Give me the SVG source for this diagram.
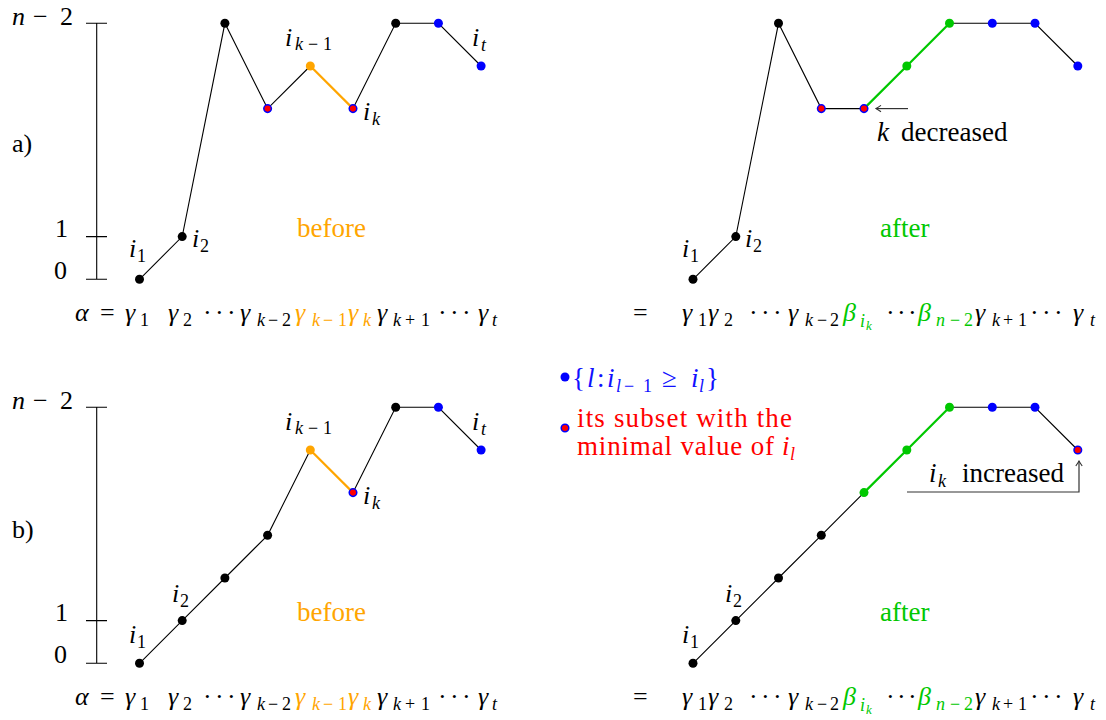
<svg xmlns="http://www.w3.org/2000/svg" width="1106" height="720" viewBox="0 0 1106 720">
<defs>
<style>
.k{fill:#000}
.b{fill:#0000FF}
.o{fill:#FFA500}
.g{fill:#00C800}
.br{fill:#FF0000;stroke:#0000FF;stroke-width:1.5}
.ln{fill:none;stroke:#000;stroke-width:1.1}
.lo{fill:none;stroke:#FFA500;stroke-width:2.2}
.lg{fill:none;stroke:#00C800;stroke-width:2.2}
.ax{fill:none;stroke:#000;stroke-width:1.1}
.ar{fill:none;stroke:#333;stroke-width:1.2}
</style>
<marker id="arr" viewBox="-6 -4 7 8" refX="0" refY="0" markerWidth="7" markerHeight="8" markerUnits="userSpaceOnUse" orient="auto">
<path d="M-5,-3.2 Q-1.5,-0.8 0,0 Q-1.5,0.8 -5,3.2" fill="none" stroke="#333" stroke-width="1.1"/>
</marker>
</defs>
<g id="axes">
<path class="ax" d="M96.7,23.3V279.3M86,23.3H107M86,236.6H107M86,279.3H107"/>
<path class="ax" d="M96.7,407.3V663.3M86,407.3H107M86,620.6H107M86,663.3H107"/>
<text font-family="serif" font-size="26" x="12" y="25"><tspan font-style="italic">n</tspan><tspan x="33">−</tspan><tspan x="60">2</tspan></text>
<text font-family="serif" font-size="26" x="55" y="237">1</text>
<text font-family="serif" font-size="26" x="54" y="279">0</text>
<text font-family="serif" font-size="26" x="12" y="152">a)</text>
<text font-family="serif" font-size="26" x="12" y="409"><tspan font-style="italic">n</tspan><tspan x="33">−</tspan><tspan x="60">2</tspan></text>
<text font-family="serif" font-size="26" x="55" y="621">1</text>
<text font-family="serif" font-size="26" x="54" y="663">0</text>
<text font-family="serif" font-size="26" x="12" y="538">b)</text>
</g>
<g id="connectors">
<polyline class="ln" points="139.5,279.3 182.2,236.6 224.9,23.3 267.6,108.6 310.3,66"/>
<polyline class="lo" points="310.3,66 353,108.6"/>
<polyline class="ln" points="353,108.6 395.7,23.3 438.4,23.3 481.1,66"/>
<polyline class="ln" points="693,279.3 735.8,236.6 778.5,23.3 821.3,108.6 864,108.6"/>
<polyline class="lg" points="864,108.6 906.8,66 949.5,23.3"/>
<polyline class="ln" points="949.5,23.3 992.3,23.3 1035,23.3 1077.8,66"/>
<polyline class="ln" points="139.5,663.3 182.2,620.6 224.9,578 267.6,535.3 310.3,450"/>
<polyline class="lo" points="310.3,450 353,492.6"/>
<polyline class="ln" points="353,492.6 395.7,407.3 438.4,407.3 481.1,450"/>
<polyline class="ln" points="693,663.3 735.8,620.6 778.5,578 821.3,535.3 864,492.6"/>
<polyline class="lg" points="864,492.6 906.8,450 949.5,407.3"/>
<polyline class="ln" points="949.5,407.3 992.3,407.3 1035,407.3 1077.8,450"/>
<path class="ar" d="M908,108.6H876" marker-end="url(#arr)"/>
<path class="ar" d="M907,492H1079V461" marker-end="url(#arr)"/>
</g>
<g id="a-b-0"><circle class="k" cx="139.5" cy="279.3" r="4.5"/><text font-family="serif" font-size="26" font-style="italic" x="129" y="257">i<tspan font-size="18" font-style="normal" x="137" y="262">1</tspan></text></g>
<g id="a-b-1"><circle class="k" cx="182.2" cy="236.6" r="4.5"/><text font-family="serif" font-size="26" font-style="italic" x="192" y="247">i<tspan font-size="18" font-style="normal" x="200" y="252">2</tspan></text></g>
<g id="a-b-2"><circle class="k" cx="224.9" cy="23.3" r="4.5"/></g>
<g id="a-b-3"><circle class="br" cx="267.6" cy="108.6" r="3.8"/></g>
<g id="a-b-4"><circle class="o" cx="310.3" cy="66" r="4.5"/><text font-family="serif" font-size="26" font-style="italic" x="285" y="46">i<tspan font-size="18" x="295" y="50">k</tspan><tspan font-size="18" font-style="normal" x="308">−</tspan><tspan font-size="18" font-style="normal" x="323">1</tspan></text></g>
<g id="a-b-5"><circle class="br" cx="353" cy="108.6" r="3.8"/><text font-family="serif" font-size="26" font-style="italic" x="363" y="120">i<tspan font-size="18" x="372" y="125">k</tspan></text></g>
<g id="a-b-6"><circle class="k" cx="395.7" cy="23.3" r="4.5"/></g>
<g id="a-b-7"><circle class="b" cx="438.4" cy="23.3" r="4.5"/></g>
<g id="a-b-8"><circle class="b" cx="481.1" cy="66" r="4.5"/><text font-family="serif" font-size="26" font-style="italic" x="472" y="46">i<tspan font-size="18" x="481" y="51">t</tspan></text></g>
<g id="a-before"><text font-family="serif" font-size="27" fill="#FFA500" x="297" y="237">before</text></g>
<g id="a-a-0"><circle class="k" cx="693" cy="279.3" r="4.5"/><text font-family="serif" font-size="26" font-style="italic" x="682" y="257">i<tspan font-size="18" font-style="normal" x="690" y="262">1</tspan></text></g>
<g id="a-a-1"><circle class="k" cx="735.8" cy="236.6" r="4.5"/><text font-family="serif" font-size="26" font-style="italic" x="745" y="247">i<tspan font-size="18" font-style="normal" x="753" y="252">2</tspan></text></g>
<g id="a-a-2"><circle class="k" cx="778.5" cy="23.3" r="4.5"/></g>
<g id="a-a-3"><circle class="br" cx="821.3" cy="108.6" r="3.8"/></g>
<g id="a-a-4"><circle class="br" cx="864" cy="108.6" r="3.8"/></g>
<g id="a-a-5"><circle class="g" cx="906.8" cy="66" r="4.5"/></g>
<g id="a-a-6"><circle class="g" cx="949.5" cy="23.3" r="4.5"/></g>
<g id="a-a-7"><circle class="b" cx="992.3" cy="23.3" r="4.5"/></g>
<g id="a-a-8"><circle class="b" cx="1035" cy="23.3" r="4.5"/></g>
<g id="a-a-9"><circle class="b" cx="1077.8" cy="66" r="4.5"/></g>
<g id="a-after"><text font-family="serif" font-size="27" fill="#00C800" x="880" y="237">after</text></g>
<g id="a-note"><text font-family="serif" font-size="27" x="877" y="141"><tspan font-style="italic">k</tspan><tspan x="901">decreased</tspan></text></g>
<g id="b-b-0"><circle class="k" cx="139.5" cy="663.3" r="4.5"/><text font-family="serif" font-size="26" font-style="italic" x="129" y="643">i<tspan font-size="18" font-style="normal" x="137" y="648">1</tspan></text></g>
<g id="b-b-1"><circle class="k" cx="182.2" cy="620.6" r="4.5"/><text font-family="serif" font-size="26" font-style="italic" x="172" y="602">i<tspan font-size="18" font-style="normal" x="180" y="607">2</tspan></text></g>
<g id="b-b-2"><circle class="k" cx="224.9" cy="578" r="4.5"/></g>
<g id="b-b-3"><circle class="k" cx="267.6" cy="535.3" r="4.5"/></g>
<g id="b-b-4"><circle class="o" cx="310.3" cy="450" r="4.5"/><text font-family="serif" font-size="26" font-style="italic" x="285" y="430">i<tspan font-size="18" x="295" y="434">k</tspan><tspan font-size="18" font-style="normal" x="308">−</tspan><tspan font-size="18" font-style="normal" x="323">1</tspan></text></g>
<g id="b-b-5"><circle class="br" cx="353" cy="492.6" r="3.8"/><text font-family="serif" font-size="26" font-style="italic" x="363" y="504">i<tspan font-size="18" x="372" y="509">k</tspan></text></g>
<g id="b-b-6"><circle class="k" cx="395.7" cy="407.3" r="4.5"/></g>
<g id="b-b-7"><circle class="b" cx="438.4" cy="407.3" r="4.5"/></g>
<g id="b-b-8"><circle class="b" cx="481.1" cy="450" r="4.5"/><text font-family="serif" font-size="26" font-style="italic" x="472" y="430">i<tspan font-size="18" x="481" y="435">t</tspan></text></g>
<g id="b-before"><text font-family="serif" font-size="27" fill="#FFA500" x="297" y="621">before</text></g>
<g id="b-a-0"><circle class="k" cx="693" cy="663.3" r="4.5"/><text font-family="serif" font-size="26" font-style="italic" x="682" y="643">i<tspan font-size="18" font-style="normal" x="690" y="648">1</tspan></text></g>
<g id="b-a-1"><circle class="k" cx="735.8" cy="620.6" r="4.5"/><text font-family="serif" font-size="26" font-style="italic" x="725" y="602">i<tspan font-size="18" font-style="normal" x="733" y="607">2</tspan></text></g>
<g id="b-a-2"><circle class="k" cx="778.5" cy="578" r="4.5"/></g>
<g id="b-a-3"><circle class="k" cx="821.3" cy="535.3" r="4.5"/></g>
<g id="b-a-4"><circle class="g" cx="864" cy="492.6" r="4.5"/></g>
<g id="b-a-5"><circle class="g" cx="906.8" cy="450" r="4.5"/></g>
<g id="b-a-6"><circle class="g" cx="949.5" cy="407.3" r="4.5"/></g>
<g id="b-a-7"><circle class="b" cx="992.3" cy="407.3" r="4.5"/></g>
<g id="b-a-8"><circle class="b" cx="1035" cy="407.3" r="4.5"/></g>
<g id="b-a-9"><circle class="br" cx="1077.8" cy="450" r="3.8"/></g>
<g id="b-after"><text font-family="serif" font-size="27" fill="#00C800" x="880" y="621">after</text></g>
<g id="b-note"><text font-family="serif" font-size="27" x="929" y="482"><tspan font-style="italic">i</tspan><tspan font-size="18" font-style="italic" x="938" y="487">k</tspan><tspan x="962" y="482">increased</tspan></text></g>
<g id="legend-blue"><circle class="b" cx="565" cy="377" r="4.5"/>
<text font-family="serif" font-size="27" fill="#1010FF" y="387"><tspan x="572">{</tspan><tspan font-style="italic" x="587">l</tspan><tspan x="597">:</tspan><tspan font-style="italic" x="607">i</tspan><tspan font-size="18" font-style="italic" x="616" y="392">l</tspan><tspan font-size="18" x="624">−</tspan><tspan font-size="18" x="643">1</tspan><tspan x="662" y="387">≥</tspan><tspan font-style="italic" x="691">i</tspan><tspan font-size="18" font-style="italic" x="699" y="392">l</tspan><tspan x="706" y="387">}</tspan></text></g>
<g id="legend-red"><circle class="br" cx="565" cy="428" r="3.8"/>
<text font-family="serif" font-size="27" fill="#F00" x="577" y="427" textLength="215" lengthAdjust="spacing">its subset with the</text>
<text font-family="serif" font-size="27" fill="#F00" x="577" y="455" textLength="197" lengthAdjust="spacing">minimal value of</text>
<text font-family="serif" font-size="27" fill="#F00" font-style="italic" x="782" y="455">i<tspan font-size="18" x="790" y="460">l</tspan></text></g>
<g id="formula-a-left">
<text font-family="serif" font-size="26" y="321"><tspan font-style="italic" x="75">α</tspan><tspan x="100">=</tspan><tspan font-style="italic" x="125">γ</tspan><tspan font-size="18" x="140" y="326">1</tspan><tspan font-style="italic" x="168" y="321">γ</tspan><tspan font-size="18" x="183" y="326">2</tspan><tspan x="203 215 227" y="321">···</tspan><tspan font-style="italic" x="240">γ</tspan><tspan font-size="18" font-style="italic" x="257" y="326">k</tspan><tspan font-size="18" x="268">−</tspan><tspan font-size="18" x="282">2</tspan><tspan fill="#FFA500" font-style="italic" x="295" y="321">γ</tspan><tspan fill="#FFA500" font-size="18" font-style="italic" x="312" y="326">k</tspan><tspan fill="#FFA500" font-size="18" x="323">−</tspan><tspan fill="#FFA500" font-size="18" x="338">1</tspan><tspan fill="#FFA500" font-style="italic" x="348" y="321">γ</tspan><tspan fill="#FFA500" font-size="18" font-style="italic" x="363" y="326">k</tspan><tspan font-style="italic" x="377" y="321">γ</tspan><tspan font-size="18" font-style="italic" x="393" y="326">k</tspan><tspan font-size="18" x="405">+</tspan><tspan font-size="18" x="421">1</tspan><tspan x="438 450 462" y="321">···</tspan><tspan font-style="italic" x="478">γ</tspan><tspan font-size="18" font-style="italic" x="492" y="326">t</tspan></text>
</g>
<g id="formula-a-right">
<text font-family="serif" font-size="26" y="321"><tspan x="633">=</tspan><tspan font-style="italic" x="682">γ</tspan><tspan font-size="18" x="698" y="326">1</tspan><tspan font-style="italic" x="708" y="321">γ</tspan><tspan font-size="18" x="724" y="326">2</tspan><tspan x="749 761 773" y="321">···</tspan><tspan font-style="italic" x="788">γ</tspan><tspan font-size="18" font-style="italic" x="805" y="326">k</tspan><tspan font-size="18" x="817">−</tspan><tspan font-size="18" x="830">2</tspan><tspan fill="#00C800" font-style="italic" x="843" y="321">β</tspan><tspan fill="#00C800" font-size="18" font-style="italic" x="860" y="327">i</tspan><tspan fill="#00C800" font-size="13" font-style="italic" x="866" y="330">k</tspan><tspan x="886 897 908" y="321">···</tspan><tspan fill="#00C800" font-style="italic" x="918">β</tspan><tspan fill="#00C800" font-size="18" font-style="italic" x="936" y="326">n</tspan><tspan fill="#00C800" font-size="18" x="950">−</tspan><tspan fill="#00C800" font-size="18" x="964">2</tspan><tspan font-style="italic" x="975" y="321">γ</tspan><tspan font-size="18" font-style="italic" x="992" y="326">k</tspan><tspan font-size="18" x="1003">+</tspan><tspan font-size="18" x="1018">1</tspan><tspan x="1030 1042 1054" y="321">···</tspan><tspan font-style="italic" x="1073">γ</tspan><tspan font-size="18" font-style="italic" x="1090" y="326">t</tspan></text>
</g>
<g id="formula-b-left">
<text font-family="serif" font-size="26" y="705"><tspan font-style="italic" x="75">α</tspan><tspan x="100">=</tspan><tspan font-style="italic" x="125">γ</tspan><tspan font-size="18" x="140" y="710">1</tspan><tspan font-style="italic" x="168" y="705">γ</tspan><tspan font-size="18" x="183" y="710">2</tspan><tspan x="203 215 227" y="705">···</tspan><tspan font-style="italic" x="240">γ</tspan><tspan font-size="18" font-style="italic" x="257" y="710">k</tspan><tspan font-size="18" x="268">−</tspan><tspan font-size="18" x="282">2</tspan><tspan fill="#FFA500" font-style="italic" x="295" y="705">γ</tspan><tspan fill="#FFA500" font-size="18" font-style="italic" x="312" y="710">k</tspan><tspan fill="#FFA500" font-size="18" x="323">−</tspan><tspan fill="#FFA500" font-size="18" x="338">1</tspan><tspan fill="#FFA500" font-style="italic" x="348" y="705">γ</tspan><tspan fill="#FFA500" font-size="18" font-style="italic" x="363" y="710">k</tspan><tspan font-style="italic" x="377" y="705">γ</tspan><tspan font-size="18" font-style="italic" x="393" y="710">k</tspan><tspan font-size="18" x="405">+</tspan><tspan font-size="18" x="421">1</tspan><tspan x="438 450 462" y="705">···</tspan><tspan font-style="italic" x="478">γ</tspan><tspan font-size="18" font-style="italic" x="492" y="710">t</tspan></text>
</g>
<g id="formula-b-right">
<text font-family="serif" font-size="26" y="705"><tspan x="633">=</tspan><tspan font-style="italic" x="682">γ</tspan><tspan font-size="18" x="698" y="710">1</tspan><tspan font-style="italic" x="708" y="705">γ</tspan><tspan font-size="18" x="724" y="710">2</tspan><tspan x="749 761 773" y="705">···</tspan><tspan font-style="italic" x="788">γ</tspan><tspan font-size="18" font-style="italic" x="805" y="710">k</tspan><tspan font-size="18" x="817">−</tspan><tspan font-size="18" x="830">2</tspan><tspan fill="#00C800" font-style="italic" x="843" y="705">β</tspan><tspan fill="#00C800" font-size="18" font-style="italic" x="860" y="711">i</tspan><tspan fill="#00C800" font-size="13" font-style="italic" x="866" y="714">k</tspan><tspan x="886 897 908" y="705">···</tspan><tspan fill="#00C800" font-style="italic" x="918">β</tspan><tspan fill="#00C800" font-size="18" font-style="italic" x="936" y="710">n</tspan><tspan fill="#00C800" font-size="18" x="950">−</tspan><tspan fill="#00C800" font-size="18" x="964">2</tspan><tspan font-style="italic" x="975" y="705">γ</tspan><tspan font-size="18" font-style="italic" x="992" y="710">k</tspan><tspan font-size="18" x="1003">+</tspan><tspan font-size="18" x="1018">1</tspan><tspan x="1030 1042 1054" y="705">···</tspan><tspan font-style="italic" x="1073">γ</tspan><tspan font-size="18" font-style="italic" x="1090" y="710">t</tspan></text>
</g>
</svg>
